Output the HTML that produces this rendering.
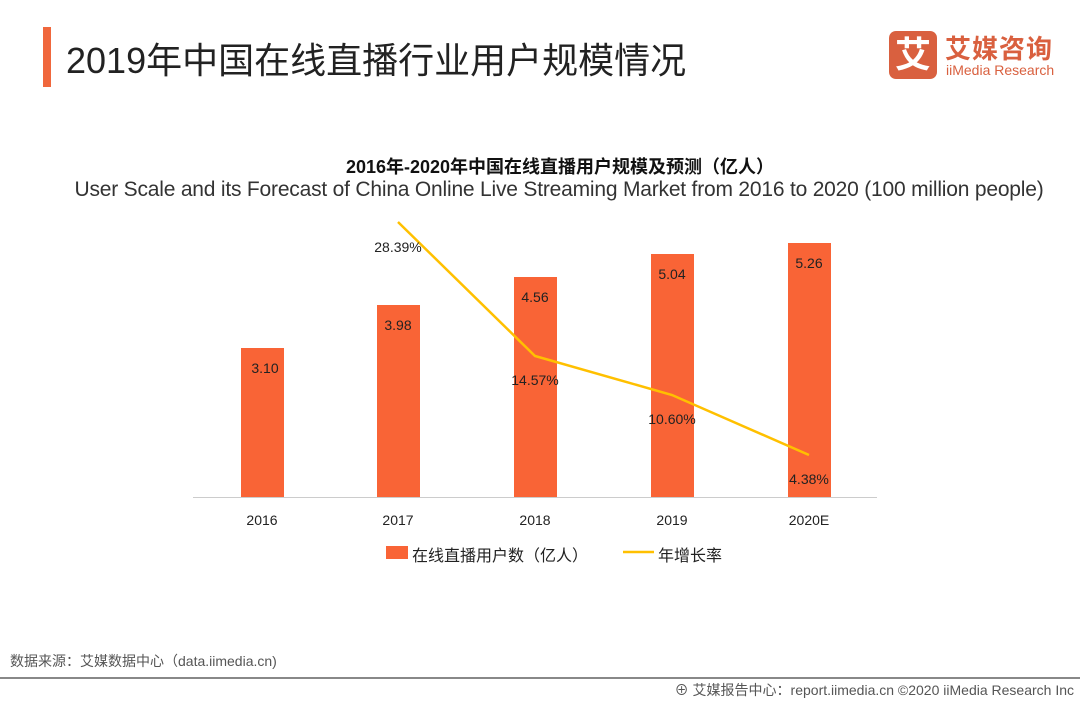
<!DOCTYPE html>
<html><head><meta charset="utf-8"><style>
body{margin:0;width:1080px;height:702px;background:#fff;position:relative;overflow:hidden;font-family:"Liberation Sans","Noto Sans CJK SC",sans-serif}
.a{position:absolute;white-space:nowrap}
</style></head><body>
<div class="a" style="left:43px;top:27px;width:8px;height:60px;background:#f0673c"></div>
<div class="a" style="left:66px;top:32px;font-size:36px;color:#222">2019年中国在线直播行业用户规模情况</div>
<div class="a" style="left:889px;top:31px;width:48px;height:48px;background:#d9603f;border-radius:7px;color:#fff;font-size:36px;line-height:48px;text-align:center;font-weight:bold">艾</div>
<div class="a" style="left:945px;top:29px;font-size:26px;color:#d9603f;font-weight:bold;letter-spacing:1px">艾媒咨询</div>
<div class="a" style="left:946px;top:62px;font-size:14px;color:#d9603f">iiMedia Research</div>
<div class="a" style="left:0;width:1120px;top:153px;text-align:center;font-size:18px;font-weight:bold;color:#111">2016年-2020年中国在线直播用户规模及预测（亿人）</div>
<div class="a" style="left:0;width:1118px;top:178px;text-align:center;font-size:21px;color:#333;letter-spacing:-0.2px">User Scale and its Forecast of China Online Live Streaming Market from 2016 to 2020 (100 million people)</div>
<svg class="a" style="left:0;top:0" width="1080" height="702">
<g fill="#f96436">
<rect x="241" y="348" width="43" height="149"/>
<rect x="377" y="305" width="43" height="192"/>
<rect x="514" y="277" width="43" height="220"/>
<rect x="651" y="254" width="43" height="243"/>
<rect x="788" y="243" width="43" height="254"/>
</g>
<line x1="193" y1="497.5" x2="877" y2="497.5" stroke="#ccc"/>
<polyline points="398,222 535,356 672,395 809,455" fill="none" stroke="#ffc000" stroke-width="2.5"/>
<g font-size="14" fill="#222" text-anchor="middle" font-family="Liberation Sans,sans-serif">
<text x="265" y="373">3.10</text><text x="398" y="330">3.98</text><text x="535" y="302">4.56</text><text x="672" y="279">5.04</text><text x="809" y="268">5.26</text>
<text x="398" y="252">28.39%</text><text x="535" y="385">14.57%</text><text x="672" y="424">10.60%</text><text x="809" y="484">4.38%</text>
<text x="262" y="525">2016</text><text x="398" y="525">2017</text><text x="535" y="525">2018</text><text x="672" y="525">2019</text><text x="809" y="525">2020E</text>
</g>
<rect x="386" y="546" width="22" height="13" fill="#f96436"/>
<line x1="623" y1="552" x2="654" y2="552" stroke="#ffc000" stroke-width="2.5"/>
<line x1="0" y1="678" x2="1080" y2="678" stroke="#888" stroke-width="2"/>
</svg>
<div class="a" style="left:412px;top:542px;font-size:16px;color:#222">在线直播用户数（亿人）</div>
<div class="a" style="left:658px;top:542px;font-size:16px;color:#222">年增长率</div>
<div class="a" style="left:10px;top:651px;font-size:14px;color:#555">数据来源：艾媒数据中心（data.iimedia.cn)</div>
<div class="a" style="right:6px;top:680px;font-size:14px;color:#555">⊕ 艾媒报告中心：report.iimedia.cn  ©2020  iiMedia Research Inc</div>
</body></html>
